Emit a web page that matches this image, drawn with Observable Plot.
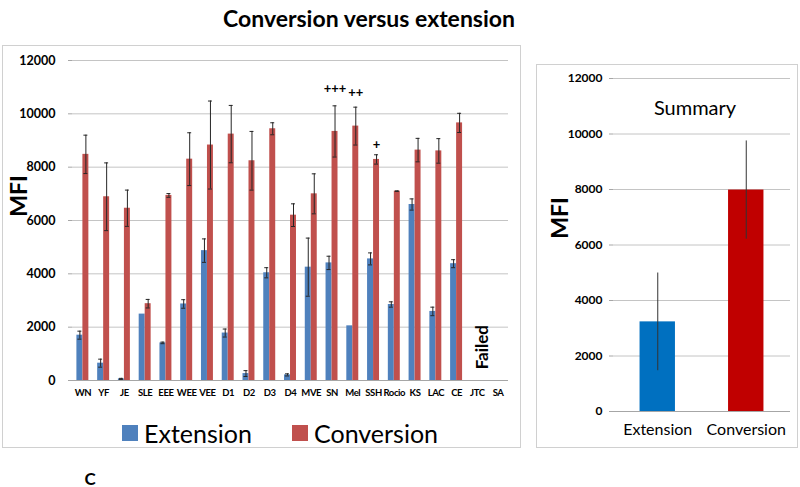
<!DOCTYPE html>
<html>
<head>
<meta charset="utf-8">
<script src="https://cdn.jsdelivr.net/npm/d3@7"></script>
<script src="https://cdn.jsdelivr.net/npm/@observablehq/plot@0.6"></script>
<style>
  html, body { margin: 0; padding: 0; background: #fff; }
  #wrap { position: relative; width: 800px; height: 487px; overflow: hidden; font-family: Lato, "Open Sans", sans-serif; color: #000; }
  .abs { position: absolute; }
  .panel { position: absolute; border: 1px solid #d0d0d0; box-sizing: border-box; }
  #title { left: 0; width: 738px; top: 4px; text-align: center; font-weight: bold; font-size: 23px; }
  .rot { transform: translate(-50%, -50%) rotate(-90deg); white-space: nowrap; font-weight: bold; }
  .legend { top: 418px; font-size: 25px; display: flex; align-items: center; }
  .sw { width: 16px; height: 16px; display: inline-block; margin-right: 6px; }
  #right-chart g[aria-label="x-axis tick label"] text { font-weight: normal; }
  #left-chart g[aria-label="x-axis tick label"] text { letter-spacing: -0.4px; }
</style>
</head>
<body>
<div id="wrap">
  <div id="title" class="abs">Conversion versus extension</div>
  <div class="panel" style="left:2px;top:45px;width:519px;height:403px;"></div>
  <div class="panel" style="left:536px;top:64px;width:262px;height:384px;"></div>
  <div id="left-chart" class="abs" style="left:0;top:45px;"></div>
  <div id="right-chart" class="abs" style="left:533px;top:62px;"></div>
  <div class="abs rot" style="left:18px;top:196px;font-size:23px;">MFI</div>
  <div class="abs rot" style="left:559px;top:218px;font-size:23px;">MFI</div>
  <div class="abs" style="left:695px;top:107px;transform:translate(-50%,-50%);font-size:20px;">Summary</div>
  <div class="abs legend" style="left:122px;"><span class="sw" style="background:#4F81BD"></span>Extension</div>
  <div class="abs legend" style="left:292px;"><span class="sw" style="background:#C0504D"></span>Conversion</div>
  <div class="abs" style="left:90px;top:478px;transform:translate(-50%,-50%);font-size:17px;font-weight:bold;">C</div>
</div>
<script>
// ---- Left panel data ----
const categories = ["WN","YF","JE","SLE","EEE","WEE","VEE","D1","D2","D3","D4","MVE","SN","Mel","SSH","Rocio","KS","LAC","CE","JTC","SA"];
const extension  = [1700, 650, 60, 2490, 1410, 2870, 4870, 1780, 260, 4040, 210, 4250, 4410, 2050, 4560, 2850, 6600, 2590, 4380, null, null];
const extErr     = [150, 150, 20, 0, 30, 160, 440, 150, 110, 190, 40, 1090, 250, 0, 225, 100, 210, 160, 150, null, null];
const conversion = [8480, 6890, 6460, 2880, 6940, 8300, 8830, 9240, 8240, 9440, 6200, 7000, 9340, 9540, 8290, 7100, 8640, 8610, 9660, null, null];
const convErr    = [720, 1270, 680, 160, 70, 990, 1650, 1075, 1100, 225, 425, 750, 960, 710, 175, 10, 440, 460, 360, null, null];
const yTicks = [0, 2000, 4000, 6000, 8000, 10000, 12000];
const annoCats   = ["SN", "Mel", "SSH"];
const annoLabels = ["+++", "++", "+"];
const annoValues = [10950, 10800, 8850];
const failedCat = "JTC";
const failedText = "Failed";
const failedValue = 1250;

// ---- Summary data ----
const summaryCats = ["Extension", "Conversion"];
const summaryValues = [3230, 7980];
const summaryErr = [1760, 1770];
const summaryColors = ["#0070C0", "#C00000"];

const rows = categories.map((c, i) => ({cat: c, ext: extension[i], extErr: extErr[i], conv: conversion[i], convErr: convErr[i]}))
  .filter(d => d.ext != null);
const annos = annoCats.map((c, i) => ({cat: c, label: annoLabels[i], value: annoValues[i]}));

const errColor = "#262626";
const left = Plot.plot({
  width: 520, height: 360,
  marginTop: 15, marginBottom: 25, marginLeft: 72, marginRight: 12,
  style: {fontFamily: "Lato, 'Open Sans', sans-serif", background: "transparent", fontSize: "12px", color: "#000"},
  x: {domain: categories, padding: 0, round: false},
  y: {domain: [0, 12000]},
  marks: [
    Plot.gridY(yTicks, {stroke: "#c4c4c4", strokeOpacity: 1}),
    Plot.barY(rows, {x: "cat", y: "ext", fill: "#4F81BD", insetLeft: 4.4, insetRight: 10.4}),
    Plot.barY(rows, {x: "cat", y: "conv", fill: "#C0504D", insetLeft: 10.4, insetRight: 4.4}),
    Plot.ruleX(rows.filter(d => d.extErr > 0), {x: "cat", y1: d => d.ext - d.extErr, y2: d => d.ext + d.extErr, dx: -3, stroke: errColor}),
    Plot.tickY(rows.filter(d => d.extErr > 0), {x: "cat", y: d => d.ext + d.extErr, insetLeft: 5.4, insetRight: 11.4, stroke: errColor}),
    Plot.tickY(rows.filter(d => d.extErr > 0), {x: "cat", y: d => d.ext - d.extErr, insetLeft: 5.4, insetRight: 11.4, stroke: errColor}),
    Plot.ruleX(rows.filter(d => d.convErr > 0), {x: "cat", y1: d => d.conv - d.convErr, y2: d => d.conv + d.convErr, dx: 3, stroke: errColor}),
    Plot.tickY(rows.filter(d => d.convErr > 0), {x: "cat", y: d => d.conv + d.convErr, insetLeft: 11.4, insetRight: 5.4, stroke: errColor}),
    Plot.tickY(rows.filter(d => d.convErr > 0), {x: "cat", y: d => d.conv - d.convErr, insetLeft: 11.4, insetRight: 5.4, stroke: errColor}),
    Plot.text(annos, {x: "cat", y: "value", text: "label", dx: 3, fontWeight: "bold", fontSize: 13, fill: "#000"}),
    Plot.text([failedText], {x: () => failedCat, y: () => failedValue, text: d => d, rotate: -90, dx: 5, fontWeight: "bold", fontSize: 17, fill: "#000"}),
    Plot.ruleY([0], {stroke: "#a6a6a6"}),
    Plot.axisY({ticks: yTicks, tickSize: 4, tickPadding: 13, stroke: "#a6a6a6", fill: "#000", line: true, fontWeight: "bold", fontSize: 12.5, tickFormat: d => String(d), label: null}),
    Plot.axisX({tickSize: 0, tickPadding: 9, fill: "#000", fontWeight: "bold", fontSize: 9.5, label: null})
  ]
});
document.getElementById("left-chart").appendChild(left);

const summary = summaryCats.map((c, i) => ({cat: c, value: summaryValues[i], err: summaryErr[i], color: summaryColors[i]}));
const right = Plot.plot({
  width: 264, height: 386,
  marginTop: 16, marginBottom: 37, marginLeft: 80, marginRight: 7,
  style: {fontFamily: "Lato, 'Open Sans', sans-serif", background: "transparent", fontSize: "12px", color: "#000"},
  x: {domain: summaryCats, paddingInner: 0.6, paddingOuter: 0.3, round: false},
  y: {domain: [0, 12000]},
  marks: [
    Plot.gridY(yTicks, {stroke: "#c4c4c4", strokeOpacity: 1}),
    Plot.barY(summary, {x: "cat", y: "value", fill: "color"}),
    Plot.ruleX(summary, {x: "cat", y1: d => d.value - d.err, y2: d => d.value + d.err, stroke: "#333"}),
    Plot.ruleY([0], {stroke: "#a6a6a6"}),
    Plot.axisY({ticks: yTicks, tickSize: 4, tickPadding: 7, stroke: "#a6a6a6", fill: "#000", line: true, fontWeight: "bold", fontSize: 12, tickFormat: d => String(d), label: null}),
    Plot.axisX({tickSize: 0, tickPadding: 12, fill: "#000", fontSize: 16, label: null})
  ]
});
document.getElementById("right-chart").appendChild(right);
</script>
</body>
</html>
